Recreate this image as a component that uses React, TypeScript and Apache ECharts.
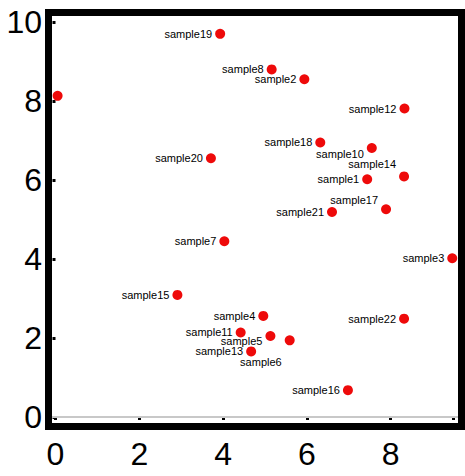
import React, { useEffect, useRef } from "react";
import * as echarts from "echarts";

const sampleNames = [
  "sample9", "sample19", "sample8", "sample2", "sample12", "sample18", "sample10",
  "sample14", "sample1", "sample17", "sample21", "sample20", "sample7", "sample15",
  "sample11", "sample4", "sample5", "sample6", "sample13", "sample16", "sample22", "sample3",
];
const xValues = [
  0.05, 3.93, 5.16, 5.94, 8.33, 6.32, 7.55,
  8.32, 7.44, 7.89, 6.60, 3.71, 4.03, 2.91,
  4.42, 4.96, 5.13, 5.59, 4.67, 6.98, 8.32, 9.47,
];
const yValues = [
  8.13, 9.70, 8.80, 8.55, 7.81, 6.95, 6.81,
  6.09, 6.02, 5.26, 5.19, 6.55, 4.45, 3.09,
  2.14, 2.56, 2.05, 1.94, 1.66, 0.68, 2.49, 4.02,
];
const xTicks = [0, 2, 4, 6, 8];
const yTicks = [0, 2, 4, 6, 8, 10];

// label placement tweaks (style only)
const hiddenLabels = ["sample9"];
const labelShift: Record<string, [number, number]> = {
  sample10: [0, 6],
  sample14: [0, -12],
  sample17: [0, -9],
  sample5: [0, 5],
  sample6: [0, 22],
};

export default function App() {
  const ref = useRef<HTMLDivElement>(null);
  useEffect(() => {
    if (!ref.current) return;
    const chart = echarts.init(ref.current, null, { renderer: "svg" });
    const data = sampleNames.map((n, i) => ({
      name: n,
      value: [xValues[i], yValues[i]],
      label: {
        show: !hiddenLabels.includes(n),
        offset: labelShift[n] || [0, 0],
      },
    }));
    const font = "'Liberation Sans', Arial, sans-serif";
    chart.setOption({
      animation: false,
      backgroundColor: "#ffffff",
      grid: { left: 55.5, right: 11.5, top: 22, bottom: 59, containLabel: false },
      xAxis: [
        {
          type: "value",
          min: 0,
          max: 9.5,
          interval: 2,
          position: "bottom",
          axisLine: { show: false },
          axisTick: { show: false },
          splitLine: { show: false },
          axisLabel: {
            fontSize: 32,
            color: "#000",
            fontFamily: font,
            margin: 21,
            formatter: (v: number) => (xTicks.includes(v) ? String(v) : ""),
          },
        },
        {
          type: "value",
          min: 0,
          max: 9.5,
          interval: 2,
          position: "top",
          offset: 6,
          axisLine: { show: false },
          axisTick: { show: true, inside: true, length: 3, lineStyle: { color: "#000", width: 3 } },
          axisLabel: { show: false },
          splitLine: { show: false },
        },
      ],
      yAxis: [
        {
          type: "value",
          min: 0,
          max: 10,
          interval: 2,
          position: "left",
          axisLine: { show: false },
          axisTick: { show: false },
          splitLine: { show: false },
          axisLabel: {
            fontSize: 32,
            color: "#000",
            fontFamily: font,
            margin: 13.5,
            formatter: (v: number) => (yTicks.includes(v) ? String(v) : ""),
          },
        },
        {
          type: "value",
          min: 0,
          max: 10,
          interval: 2,
          position: "right",
          offset: 4.5,
          axisLine: { show: false },
          axisTick: { show: true, inside: true, length: 3, lineStyle: { color: "#000", width: 3 } },
          axisLabel: { show: false },
          splitLine: { show: false },
        },
      ],
      series: [
        {
          type: "scatter",
          xAxisIndex: 0,
          yAxisIndex: 0,
          clip: false,
          symbol: "circle",
          symbolSize: 10,
          itemStyle: { color: "#ee0a0a", opacity: 1 },
          label: {
            show: true,
            position: "left",
            distance: 3,
            formatter: "{b}",
            fontSize: 11,
            color: "#000",
            fontFamily: font,
          },
          data,
          z: 3,
        },
      ],
      graphic: [
        {
          type: "line",
          z: 1,
          shape: { x1: 52, y1: 417, x2: 458, y2: 417 },
          style: { stroke: "#c8c8c8", lineWidth: 2 },
        },
        {
          type: "rect",
          z: 100,
          shape: { x: 48.5, y: 12.5, width: 413, height: 414 },
          style: { fill: "none", stroke: "#000", lineWidth: 7 },
        },
      ],
    });
    return () => chart.dispose();
  }, []);
  return (
    <div
      ref={ref}
      style={{ position: "fixed", left: 0, top: 0, width: 465, height: 476 }}
    />
  );
}
